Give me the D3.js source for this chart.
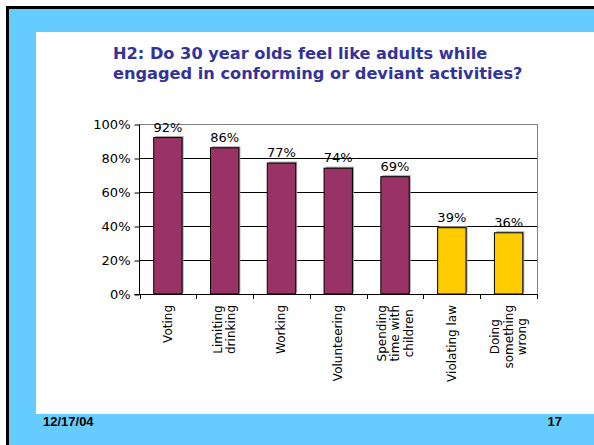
<!DOCTYPE html>
<html>
<head>
<meta charset="utf-8">
<script src="https://cdn.jsdelivr.net/npm/d3@7"></script>
<style>
  body { margin: 0; padding: 0; background: #fff; }
  svg { display: block; }
</style>
</head>
<body>
<svg id="slide" width="594" height="445"></svg>
<script>
// chart data
var categories = [
    ['Voting'],
    ['Limiting', 'drinking'],
    ['Working'],
    ['Volunteering'],
    ['Spending', 'time with', 'children'],
    ['Violating law'],
    ['Doing', 'something', 'wrong']
];
var values = [0.92, 0.86, 0.77, 0.74, 0.69, 0.39, 0.36];
var groups = ['conform', 'conform', 'conform', 'conform', 'conform', 'deviant', 'deviant'];
var yTicks = [0, 0.2, 0.4, 0.6, 0.8, 1.0];
var titleLines = ['H2: Do 30 year olds feel like adults while', 'engaged in conforming or deviant activities?'];
var footerDate = '12/17/04';
var footerPage = '17';

var svg = d3.select('#slide');

// slide frame
svg.append('rect').attr('x', 7.5).attr('y', 7.5).attr('width', 600).attr('height', 450)
    .style('fill', '#66ccff').style('stroke', '#000').style('stroke-width', 3);
svg.append('rect').attr('x', 36).attr('y', 32).attr('width', 570).attr('height', 382)
    .style('fill', '#fff');

// title
svg.append('g').selectAll('text').data(titleLines).enter().append('text')
    .attr('x', 113)
    .attr('y', function(d, i) { return 59 + i * 20; })
    .style('font-family', 'Verdana, "DejaVu Sans", sans-serif')
    .style('font-weight', 'bold')
    .style('font-size', '16.2px')
    .style('fill', '#333399')
    .text(function(d) { return d; });

// footer
svg.append('text').attr('x', 43).attr('y', 426)
    .style('font-family', 'Arial, "Liberation Sans", sans-serif').style('font-weight', 'bold')
    .style('font-size', '13px').text(footerDate);
svg.append('text').attr('x', 562).attr('y', 426).attr('text-anchor', 'end')
    .style('font-family', 'Arial, "Liberation Sans", sans-serif').style('font-weight', 'bold')
    .style('font-size', '13px').text(footerPage);

// chart
var plotL = 139.5, plotR = 537, plotT = 124, plotB = 294;
var xScale = d3.scaleBand().domain(d3.range(values.length)).range([plotL, plotR]).paddingInner(0.5).paddingOuter(0.25);
var yScale = d3.scaleLinear().domain([0, 1]).range([plotB, plotT]);
var colors = { conform: '#993366', deviant: '#ffcc00' };
var font = 'Verdana, "DejaVu Sans", sans-serif';

var chart = svg.append('g');

// gridlines
chart.append('g').selectAll('line').data(yTicks.slice(1, -1)).enter().append('line')
    .attr('x1', plotL).attr('x2', plotR)
    .attr('y1', function(d) { return Math.round(yScale(d)) + 0.5; })
    .attr('y2', function(d) { return Math.round(yScale(d)) + 0.5; })
    .style('stroke', '#000').style('stroke-width', 1);
// plot border top/right
chart.append('path')
    .attr('d', 'M' + plotL + ',' + (plotT + 0.5) + 'H' + (plotR + 0.5) + 'V' + plotB)
    .style('fill', 'none').style('stroke', '#808080').style('stroke-width', 1);

// y axis
var yAxis = d3.axisLeft(yScale).tickValues(yTicks).tickSize(5).tickPadding(4).tickFormat(d3.format('.0%'));
var yg = chart.append('g').attr('transform', 'translate(' + plotL + ',0.5)').call(yAxis);
yg.selectAll('text').style('font-family', font).style('font-size', '13px').style('fill', '#000');
yg.selectAll('line, path').style('stroke', '#000');
yg.select('.domain').attr('d', 'M0,' + plotT + 'V' + plotB);

// x axis with ticks at band boundaries
var step = xScale.step();
var bounds = d3.range(values.length + 1).map(function(i) { return plotL + i * step; });
chart.append('line').attr('x1', plotL - 5).attr('x2', plotR).attr('y1', plotB + 0.5).attr('y2', plotB + 0.5)
    .style('stroke', '#000');
chart.append('g').selectAll('line').data(bounds).enter().append('line')
    .attr('x1', function(d) { return Math.round(d) + 0.5; })
    .attr('x2', function(d) { return Math.round(d) + 0.5; })
    .attr('y1', plotB).attr('y2', plotB + 5)
    .style('stroke', '#000');

// bars
var bars = chart.append('g').selectAll('rect').data(values).enter();
bars.append('rect')
    .attr('x', function(d, i) { return xScale(i) + 1.5; })
    .attr('y', function(d) { return yScale(d) - 1.5; })
    .attr('width', xScale.bandwidth())
    .attr('height', function(d) { return plotB - yScale(d); })
    .style('fill', '#a0a0a0');
bars.append('rect')
    .attr('x', function(d, i) { return xScale(i); })
    .attr('y', function(d) { return yScale(d); })
    .attr('width', xScale.bandwidth())
    .attr('height', function(d) { return plotB - yScale(d); })
    .style('fill', function(d, i) { return colors[groups[i]]; })
    .style('stroke', '#000').style('stroke-width', 1);

// value labels
chart.append('g').selectAll('text').data(values).enter().append('text')
    .attr('x', function(d, i) { return xScale(i) + xScale.bandwidth() / 2; })
    .attr('y', function(d) { return yScale(d) - 6; })
    .attr('text-anchor', 'middle')
    .style('font-family', font).style('font-size', '13px')
    .text(function(d) { return d3.format('.0%')(d); });

// category labels, rotated, lines centred on the longest line
var lineH = 13.5;
categories.forEach(function(lines, i) {
    var cx = xScale(i) + xScale.bandwidth() / 2;
    var g = chart.append('g');
    var texts = g.selectAll('text').data(lines).enter().append('text')
        .attr('text-anchor', 'middle')
        .attr('dominant-baseline', 'central')
        .style('font-family', font).style('font-size', '12px')
        .text(function(d) { return d; });
    var maxLen = d3.max(texts.nodes(), function(n) { return n.getComputedTextLength(); });
    var cy = plotB + 11 + maxLen / 2;
    texts.attr('transform', function(d, j) {
        var x = cx + (j - (lines.length - 1) / 2) * lineH;
        return 'translate(' + x + ',' + cy + ') rotate(-90)';
    });
});
</script>
</body>
</html>
